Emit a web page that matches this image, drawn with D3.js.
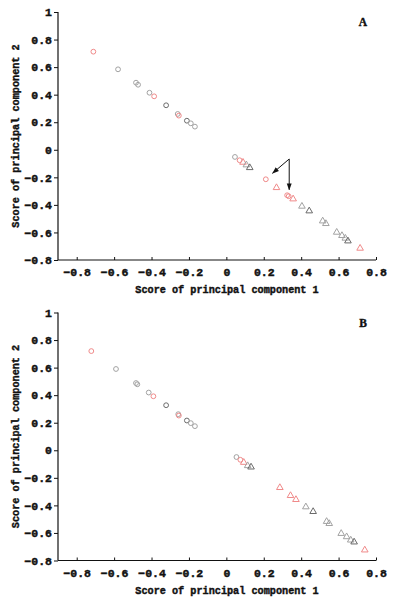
<!DOCTYPE html>
<html>
<head>
<meta charset="utf-8">
<script src="https://cdn.jsdelivr.net/npm/d3@7"></script>
<style>
  body { margin: 0; background: #fff; }
  text { font-family: "Liberation Mono", "DejaVu Sans Mono", monospace; font-weight: bold; fill: #111; }
</style>
</head>
<body>
<svg></svg>
<script>
// ===== Données ===== //
const xTicks = [-0.8, -0.6, -0.4, -0.2, 0, 0.2, 0.4, 0.6, 0.8];
const yTicks = [-0.8, -0.6, -0.4, -0.2, 0, 0.2, 0.4, 0.6, 0.8, 1];

// Panneau A
const a_pc1 = [-0.711, -0.579, -0.483, -0.472, -0.411, -0.386, -0.322, -0.26, -0.254, -0.211, -0.19, -0.168,
  0.046, 0.071, 0.089, 0.107, 0.125, 0.211, 0.268, 0.325, 0.333, 0.357, 0.404, 0.443, 0.515, 0.532, 0.590, 0.618, 0.636, 0.650, 0.715];
const a_pc2 = [0.712, 0.584, 0.487, 0.472, 0.414, 0.388, 0.323, 0.26, 0.248, 0.211, 0.192, 0.168,
  -0.052, -0.076, -0.091, -0.11, -0.13, -0.214, -0.275, -0.33, -0.337, -0.357, -0.41, -0.444, -0.517, -0.536, -0.599, -0.623, -0.642, -0.662, -0.715];
const a_shape = ["c","c","c","c","c","c","c","c","c","c","c","c",
  "c","c","t","t","t","c","t","c","c","t","t","t","t","t","t","t","t","t","t"];
const a_tone = ["red","gray","gray","gray","gray","red","dark","gray","red","dark","gray","gray",
  "gray","red","red","gray","dark","red","red","red","red","red","gray","dark","gray","gray","gray","gray","gray","dark","red"];

// Panneau B
const b_pc1 = [-0.722, -0.59, -0.483, -0.476, -0.415, -0.39, -0.322, -0.257, -0.254, -0.211, -0.19, -0.168,
  0.054, 0.075, 0.093, 0.114, 0.132, 0.286, 0.343, 0.372, 0.425, 0.464, 0.536, 0.55, 0.614, 0.643, 0.665, 0.683, 0.74];
const b_pc2 = [0.72, 0.59, 0.488, 0.479, 0.419, 0.392, 0.327, 0.262, 0.252, 0.216, 0.197, 0.175,
  -0.049, -0.069, -0.088, -0.112, -0.122, -0.271, -0.329, -0.358, -0.411, -0.445, -0.517, -0.532, -0.604, -0.628, -0.652, -0.666, -0.724];
const b_shape = ["c","c","c","c","c","c","c","c","c","c","c","c",
  "c","c","t","t","t","t","t","t","t","t","t","t","t","t","t","t","t"];
const b_tone = ["red","gray","gray","gray","gray","red","dark","gray","red","dark","gray","gray",
  "gray","red","red","gray","dark","red","red","red","gray","dark","gray","gray","gray","gray","gray","dark","red"];

// Flèches du panneau A : [x0, y0, x1, y1]
const a_arrows = [[0.336, -0.067, 0.247, -0.17], [0.336, -0.067, 0.336, -0.29]];

const toneColor = { red: "#f08a8a", gray: "#a2a2a2", dark: "#6a6a6a" };

// ===== Construction ===== //
const svg = d3.select("svg").attr("width", 395).attr("height", 602);

svg.append("defs").append("marker")
  .attr("id", "head")
  .attr("viewBox", "0 0 10 10")
  .attr("refX", 9).attr("refY", 5)
  .attr("markerWidth", 7).attr("markerHeight", 7)
  .attr("orient", "auto")
  .append("path").attr("d", "M0,1.5 L10,5 L0,8.5 z").attr("fill", "#111");

function drawPanel(top, pc1, pc2, shape, tone, letter, arrows) {
  const left = 58, right = 376, h = 248;
  const x = d3.scaleLinear().domain([-0.9, 0.8]).range([left, right]);
  const y = d3.scaleLinear().domain([-0.8, 1]).range([top + h, top]);
  const g = svg.append("g");

  // axe Y
  const ya = g.append("g").attr("transform", `translate(${left},0)`)
    .call(d3.axisLeft(y).tickValues(yTicks).tickSize(4).tickPadding(2)
      .tickFormat(d => d3.format("")(d).replace("-", "\u2212")));
  // axe X
  const xa = g.append("g").attr("transform", `translate(0,${top + h})`)
    .call(d3.axisBottom(x).tickValues(xTicks).tickSize(-3).tickPadding(8)
      .tickFormat(d => d3.format("")(d).replace("-", "\u2212")));
  [ya, xa].forEach(a => {
    a.select(".domain").attr("stroke", "#111").attr("stroke-width", 1.2);
    a.selectAll(".tick line").attr("stroke", "#111");
    a.selectAll("text").attr("font-size", 11.5)
      .style("font-family", '"Liberation Mono", monospace').style("font-weight", "bold")
      .attr("fill", "#111").attr("stroke", "#111").attr("stroke-width", 0.45);
  });
  xa.select(".domain").attr("d", `M${left},0H${right}`);
  ya.select(".domain").attr("d", `M0,${top + h}V${top}`);

  // titres
  g.append("text").attr("x", (left + right) / 2 + 10).attr("y", top + h + 33)
    .attr("text-anchor", "middle").attr("font-size", 10.2)
    .attr("stroke", "#111").attr("stroke-width", 0.4)
    .text("Score of principal component 1");
  g.append("text").attr("transform", `translate(19,${top + h / 2}) rotate(-90)`)
    .attr("text-anchor", "middle").attr("font-size", 10.2)
    .attr("stroke", "#111").attr("stroke-width", 0.4)
    .text("Score of principal component 2");
  g.append("text").attr("x", 363).attr("y", top + 14)
    .attr("text-anchor", "middle").attr("font-size", 11.5)
    .style("font-family", '"Liberation Serif", serif')
    .attr("stroke", "#111").attr("stroke-width", 0.4)
    .text(letter);

  const pts = pc1.map((v, i) => ({ x: v, y: pc2[i], s: shape[i], t: tone[i] }));
  const tri = d3.symbol().type(d3.symbolTriangle).size(19);

  g.selectAll("circle.pt").data(pts.filter(d => d.s === "c")).join("circle")
    .attr("class", "pt")
    .attr("cx", d => x(d.x)).attr("cy", d => y(d.y)).attr("r", 2.4)
    .attr("fill", "none").attr("stroke", d => toneColor[d.t]).attr("stroke-width", 1);

  g.selectAll("path.tri").data(pts.filter(d => d.s === "t")).join("path")
    .attr("class", "tri")
    .attr("transform", d => `translate(${x(d.x)},${y(d.y)})`)
    .attr("d", tri)
    .attr("fill", "none").attr("stroke", d => toneColor[d.t]).attr("stroke-width", 1);

  if (arrows) {
    g.selectAll("line.arr").data(arrows).join("line")
      .attr("class", "arr")
      .attr("x1", d => x(d[0])).attr("y1", d => y(d[1]))
      .attr("x2", d => x(d[2])).attr("y2", d => y(d[3]))
      .attr("stroke", "#111").attr("stroke-width", 1)
      .attr("marker-end", "url(#head)");
  }
}

drawPanel(12, a_pc1, a_pc2, a_shape, a_tone, "A", a_arrows);
drawPanel(312.5, b_pc1, b_pc2, b_shape, b_tone, "B", null);
</script>
</body>
</html>
